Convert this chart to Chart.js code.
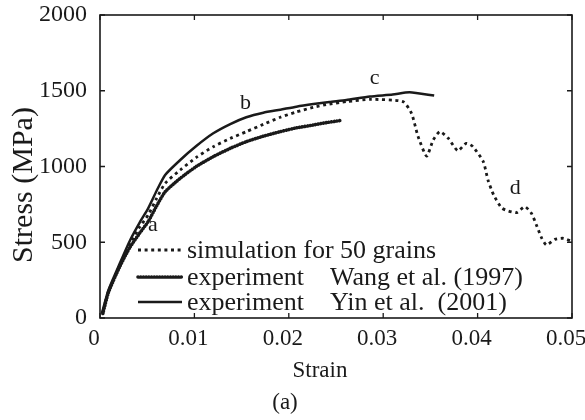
<!DOCTYPE html>
<html>
<head>
<meta charset="utf-8">
<script src="https://cdn.jsdelivr.net/npm/chart.js@4/dist/chart.umd.min.js"></script>
<style>
  html, body { margin: 0; padding: 0; background: #fff; }
  #wrap { width: 585px; height: 420px; }
</style>
</head>
<body>
<div id="wrap"><canvas id="c" width="585" height="420"></canvas></div>
<script>
// ---- Data ----
const seriesLabels = [
  'simulation for 50 grains',
  'experiment    Wang et al. (1997)',
  'experiment    Yin et al.  (2001)'
];
const simStrain = [0.0003,0.0009,0.0021,0.0032,0.0042,0.0051,0.0060,0.0069,0.0085,0.0102,0.0120,0.0138,0.0155,0.0173,0.0191,0.0208,0.0226,0.0243,0.0261,0.0286,0.0321,0.0330,0.0337,0.0346,0.0353,0.0360,0.0369,0.0379,0.0388,0.0395,0.0406,0.0411,0.0417,0.0426,0.0441,0.0450,0.0457,0.0463,0.0468,0.0473,0.0482,0.0491,0.0500];
const simStress = [30,175,345,490,600,680,790,889,977,1060,1131,1185,1230,1278,1325,1360,1391,1412,1428,1443,1428,1351,1197,1069,1175,1230,1186,1104,1153,1131,1032,911,812,724,695,735,691,603,526,482,519,526,505];
const wangStrain = [0.0003,0.0009,0.0021,0.0032,0.0042,0.0051,0.0060,0.0069,0.0085,0.0102,0.0120,0.0138,0.0155,0.0173,0.0191,0.0208,0.0226,0.0240,0.0255];
const wangStress = [30,170,340,470,560,636,740,833,922,1000,1065,1120,1164,1200,1230,1255,1274,1290,1304];
const yinStrain = [0.0002,0.0009,0.0021,0.0032,0.0042,0.0051,0.0060,0.0069,0.0085,0.0102,0.0120,0.0138,0.0155,0.0173,0.0191,0.0208,0.0226,0.0243,0.0261,0.0286,0.0310,0.0328,0.0354];
const yinStress = [30,185,361,515,630,724,840,944,1043,1135,1219,1280,1325,1355,1375,1395,1412,1426,1439,1462,1475,1490,1468];
const xTickValues = [0, 0.01, 0.02, 0.03, 0.04, 0.05];
const xTickLabels = ['0', '0.01', '0.02', '0.03', '0.04', '0.05'];
const yTickValues = [0, 500, 1000, 1500, 2000];
const yTickLabels = ['0', '500', '1000', '1500', '2000'];
const pointLetters = ['a', 'b', 'c', 'd'];
const letterStrain = [0.0056, 0.0154, 0.0291, 0.0440];
const letterStress = [614, 1419, 1584, 856];
const xTitle = 'Strain';
const yTitle = 'Stress (MPa)';
const caption = '(a)';

const SERIF = '"Liberation Serif", "DejaVu Serif", serif';
const INK = '#1a1a1a';

function pts(xs, ys) { return xs.map((x, i) => ({ x: x, y: ys[i] })); }

const styles = [
  { borderWidth: 2.8, borderDash: [3, 3.6], borderCapStyle: 'butt' },
  { borderWidth: 3.6, borderDash: [0.1, 2.6], borderCapStyle: 'round' },
  { borderWidth: 2.5, borderDash: [], borderCapStyle: 'butt' }
];

const datasets = [
  Object.assign({ label: seriesLabels[0], data: pts(simStrain, simStress) }, styles[0]),
  Object.assign({ label: seriesLabels[1], data: pts(wangStrain, wangStress) }, styles[1]),
  Object.assign({ label: seriesLabels[2], data: pts(yinStrain, yinStress) }, styles[2])
].map(d => Object.assign(d, {
  borderColor: INK, backgroundColor: INK, pointRadius: 0, fill: false,
  tension: 0.2, borderJoinStyle: 'round'
}));

const decor = {
  id: 'decor',
  afterDatasetsDraw(chart) {
    const ctx = chart.ctx, a = chart.chartArea;
    const xs = chart.scales.x, ys = chart.scales.y;
    ctx.save();
    // frame
    ctx.strokeStyle = INK; ctx.lineWidth = 1.6; ctx.setLineDash([]);
    ctx.strokeRect(a.left, a.top, a.right - a.left, a.bottom - a.top);
    // inward ticks on all four sides
    const L = 5;
    ctx.lineWidth = 1.3;
    ctx.beginPath();
    xTickValues.forEach(v => {
      const px = xs.getPixelForValue(v);
      ctx.moveTo(px, a.bottom); ctx.lineTo(px, a.bottom - L);
      ctx.moveTo(px, a.top); ctx.lineTo(px, a.top + L);
    });
    yTickValues.forEach(v => {
      const py = ys.getPixelForValue(v);
      ctx.moveTo(a.left, py); ctx.lineTo(a.left + L, py);
      ctx.moveTo(a.right, py); ctx.lineTo(a.right - L, py);
    });
    ctx.stroke();
    // legend
    ctx.font = '26px ' + SERIF;
    ctx.fillStyle = INK; ctx.textBaseline = 'middle'; ctx.textAlign = 'left';
    const lx0 = a.left + 38, lx1 = a.left + 82, tx = a.left + 87;
    const rowY = [a.top + 235, a.top + 262, a.top + 287];
    chart.data.datasets.forEach((d, i) => {
      ctx.save();
      ctx.strokeStyle = INK; ctx.lineWidth = d.borderWidth;
      ctx.setLineDash(d.borderDash); ctx.lineCap = d.borderCapStyle;
      ctx.beginPath(); ctx.moveTo(lx0, rowY[i]); ctx.lineTo(lx1, rowY[i]); ctx.stroke();
      ctx.restore();
      ctx.fillText(d.label, tx, rowY[i] + 1);
    });
    // point letters
    ctx.font = '22px ' + SERIF; ctx.textAlign = 'center';
    pointLetters.forEach((t, i) => {
      ctx.fillText(t, xs.getPixelForValue(letterStrain[i]), ys.getPixelForValue(letterStress[i]));
    });
    // x title and caption
    ctx.font = '23px ' + SERIF;
    ctx.fillText(xTitle, a.left + 220, a.bottom + 53);
    ctx.fillText(caption, a.left + 185, a.bottom + 85);
    // y title
    ctx.save();
    ctx.translate(24, a.top + 170);
    ctx.rotate(-Math.PI / 2);
    ctx.font = '30px ' + SERIF;
    ctx.fillText(yTitle, 0, 0);
    ctx.restore();
    ctx.restore();
  }
};

function noPad(s) { s.paddingTop = 0; s.paddingBottom = 0; s.paddingLeft = 0; s.paddingRight = 0; }

new Chart(document.getElementById('c'), {
  type: 'line',
  data: { datasets: datasets },
  plugins: [decor],
  options: {
    responsive: false,
    animation: false,
    layout: { padding: { top: 15, right: 13, left: 0, bottom: 0 }, autoPadding: false },
    plugins: { legend: { display: false }, tooltip: { enabled: false } },
    scales: {
      x: {
        type: 'linear', min: 0, max: 0.05,
        afterBuildTicks: s => { s.ticks = xTickValues.map(v => ({ value: v })); },
        afterFit: s => { s.height = 102; noPad(s); },
        grid: { display: false, drawTicks: false, tickLength: 0 }, border: { display: false },
        ticks: {
          color: INK, font: { family: SERIF, size: 23 }, padding: 7, labelOffset: -6,
          maxRotation: 0, autoSkip: false,
          callback: (v) => xTickLabels[xTickValues.indexOf(v)]
        }
      },
      y: {
        type: 'linear', min: 0, max: 2000,
        afterBuildTicks: s => { s.ticks = yTickValues.map(v => ({ value: v })); },
        afterFit: s => { s.width = 100; noPad(s); },
        grid: { display: false, drawTicks: false, tickLength: 0 }, border: { display: false },
        ticks: {
          color: INK, font: { family: SERIF, size: 24 }, padding: 13,
          callback: (v) => yTickLabels[yTickValues.indexOf(v)]
        }
      }
    }
  }
});
</script>
</body>
</html>
